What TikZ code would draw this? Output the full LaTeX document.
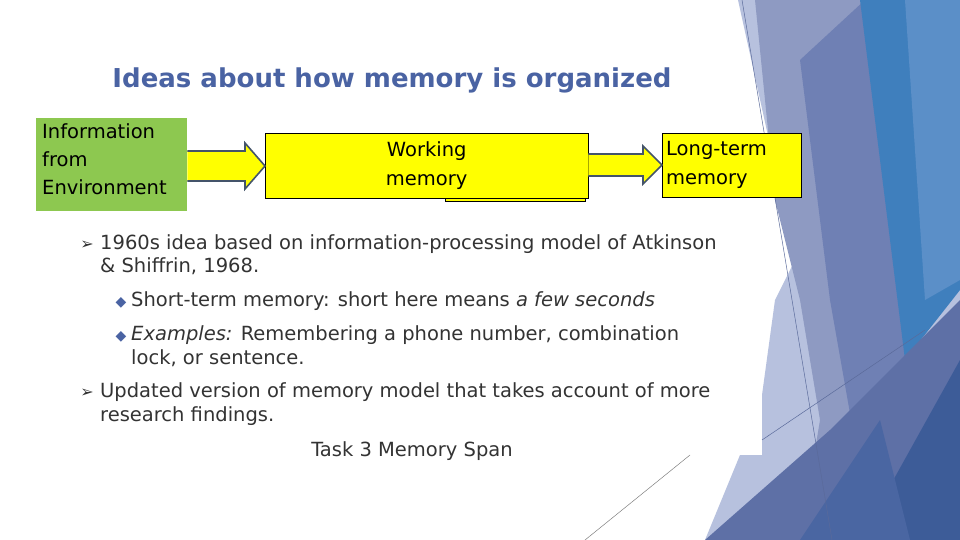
\documentclass[tikz,border=0pt]{standalone}
\usepackage{fontspec}
\setmainfont{DejaVu Sans}
\usetikzlibrary{shapes.arrows}
\definecolor{ttl}{HTML}{4A63A3}
\definecolor{txt}{HTML}{333333}
\definecolor{grn}{HTML}{8DC850}
\definecolor{ylw}{HTML}{FFFF00}
\definecolor{arw}{HTML}{44546A}
\definecolor{ca}{HTML}{B7C1DE}
\definecolor{cb}{HTML}{8E9AC2}
\definecolor{cc}{HTML}{6F80B4}
\definecolor{cd}{HTML}{3F7FBD}
\definecolor{ce}{HTML}{5B8FC8}
\definecolor{cf}{HTML}{5E70A6}
\definecolor{cg}{HTML}{3D5C98}
\definecolor{ch}{HTML}{4A66A2}
\definecolor{cl}{HTML}{5A6A9A}
\tikzset{
  body/.style={anchor=base west,text=txt,font=\fontsize{19.5}{22}\selectfont,inner sep=0},
  ybox/.style={draw=black,fill=ylw,inner sep=0},
  barrow/.style={draw=arw,line width=1.6pt,fill=ylw},
}
\begin{document}
\begin{tikzpicture}[x=1pt,y=-1pt]
\useasboundingbox (0,0) rectangle (960,540);
\fill[white] (0,0) rectangle (960,540);
% decoration
\fill[ca] (738,0) -- (960,0) -- (960,540) -- (705,540) -- (740,455) -- (762,455) -- (762,395) -- (775,300) -- (800,250) -- (780,190) -- cycle;
\fill[cb] (755,0) -- (865,0) -- (905,330) -- (870,540) -- (800,540) -- (820,420) -- (800,300) -- (775,200) -- cycle;
\fill[cc] (800,60) -- (865,0) -- (920,380) -- (860,470) -- (830,300) -- cycle;
\fill[cd] (860,0) -- (960,0) -- (960,290) -- (905,360) -- cycle;
\fill[ce] (905,0) -- (960,0) -- (960,280) -- (925,300) -- cycle;
\fill[cf] (705,540) -- (830,430) -- (960,300) -- (960,540) -- cycle;
\fill[cg] (860,540) -- (960,360) -- (960,540) -- cycle;
\fill[ch] (800,540) -- (880,420) -- (910,540) -- cycle;
\coordinate (l1a) at (742,0); \coordinate (l1b) at (832,540);
\coordinate (l2a) at (762,440); \coordinate (l2b) at (925,330);
\coordinate (l3a) at (585,540); \coordinate (l3b) at (690,455);
\draw[cl,line width=0.5pt] (l1a) -- (l1b);
\draw[cl,line width=0.5pt] (l2a) -- (l2b);
\draw[gray,line width=0.5pt] (l3a) -- (l3b);
% title
\node[text=ttl,font=\bfseries\fontsize{26}{30}\selectfont,anchor=base] (title) at (392,88) {Ideas about how memory is organized};
% boxes
\node[fill=grn,minimum width=151,minimum height=93,anchor=north west,inner sep=0] (env) at (36,118) {};
\node[anchor=north west,align=left,font=\fontsize{19.5}{28}\selectfont,inner sep=0] (envt) at (42,123) {Information\\from\\Environment};
\node[ybox,minimum width=140,minimum height=60,anchor=north west] (wmback) at (445,141) {};
\node[ybox,minimum width=323,minimum height=65,anchor=north west,align=center,font=\fontsize{19.5}{29}\selectfont] (wm) at (265,133) {Working\\memory};
\node[ybox,minimum width=139,minimum height=64,anchor=north west,align=left,font=\fontsize{19.5}{29}\selectfont,text width=131,inner xsep=4] (ltm) at (662,133) {Long-term\\memory};
% arrows
\draw[barrow] (env.east |- 0,151) -- (245,151) -- (245,143) -- (wm.west |- 0,166) -- (245,189) -- (245,181) -- (env.east |- 0,181);
\draw[barrow] (wm.east |- 0,154) -- (643,154) -- (643,146) -- (ltm.west |- 0,165) -- (643,184) -- (643,176) -- (wm.east |- 0,176);
% text
\node[text=txt,anchor=base,font=\fontsize{16}{16}\selectfont,inner sep=0] (b1) at (87,249) {➢};
\node[text=txt,anchor=base,font=\fontsize{16}{16}\selectfont,inner sep=0] (b2) at (87,397) {➢};
\node[body] (t1) at (100,249) {1960s idea based on information-processing model of Atkinson};
\node[body] (t2) at (100,272) {\& Shiffrin, 1968.};
\node[text=ttl,anchor=base,font=\fontsize{14}{14}\selectfont,inner sep=0] (d1) at (121,306) {◆};
\node[text=ttl,anchor=base,font=\fontsize{14}{14}\selectfont,inner sep=0] (d2) at (121,340) {◆};
\node[body] (t3) at (131,306) {Short-term memory: short here means \textit{a few seconds}};
\node[body] (t4) at (131,340) {\textit{Examples:} Remembering a phone number, combination};
\node[body] (t5) at (131,364) {lock, or sentence.};
\node[body] (t6) at (100,397) {Updated version of memory model that takes account of more};
\node[body] (t7) at (100,421) {research findings.};
\node[text=txt,anchor=base,font=\fontsize{19.5}{22}\selectfont,inner sep=0] (t8) at (412,456) {Task 3 Memory Span};
\end{tikzpicture}
\end{document}
